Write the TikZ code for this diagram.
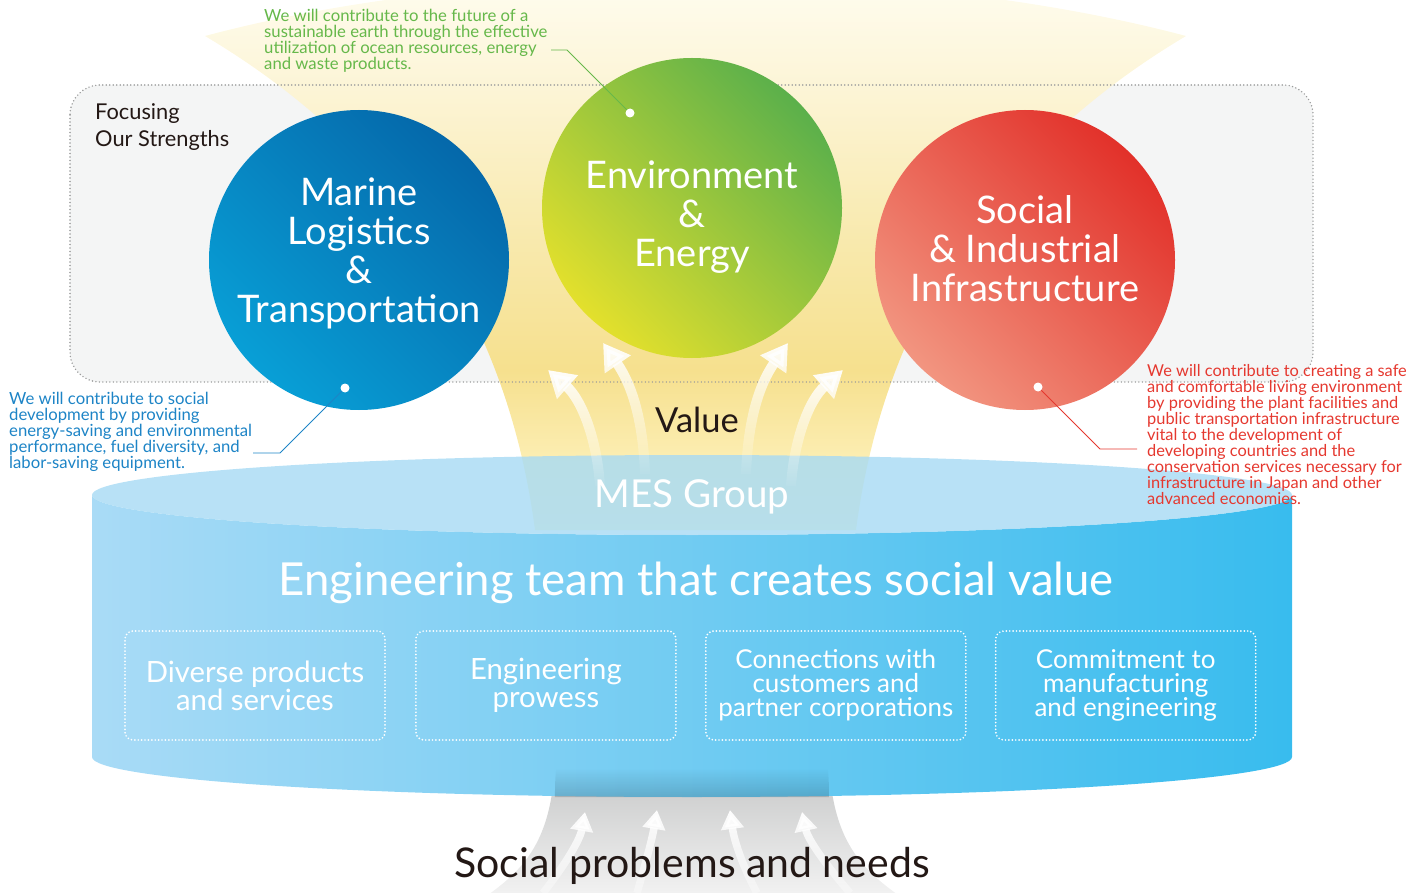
\documentclass[tikz,border=0pt]{standalone}
\usepackage{fontspec}
\setmainfont{Lato}
\usetikzlibrary{arrows.meta,fadings,positioning}

\definecolor{panelgray}{HTML}{F4F5F5}
\definecolor{dotgray}{HTML}{9A9B9B}
\definecolor{inkdark}{HTML}{231815}
\definecolor{cylleft}{HTML}{A9DBF6}
\definecolor{cylright}{HTML}{38BCEE}
\definecolor{cyltop}{HTML}{A6DAF4}
\definecolor{needgray}{HTML}{C4C5C5}
\definecolor{needlight}{HTML}{F2F2F2}
\definecolor{blueA}{HTML}{089FD6}
\definecolor{blueB}{HTML}{0076BB}
\definecolor{blueC}{HTML}{0568AA}
\definecolor{greenA}{HTML}{E3E02C}
\definecolor{greenB}{HTML}{A8CA3C}
\definecolor{greenC}{HTML}{5BB04B}
\definecolor{redA}{HTML}{F29580}
\definecolor{redB}{HTML}{E4412F}
\definecolor{redC}{HTML}{E2312A}
\definecolor{notegreen}{HTML}{66B84A}
\definecolor{noteblue}{HTML}{1D84C6}
\definecolor{notered}{HTML}{E5382F}
\definecolor{fnA}{HTML}{FDF3C6}
\definecolor{fnB}{HTML}{FCEEB3}
\definecolor{fnC}{HTML}{F6E08E}
\definecolor{fnD}{HTML}{F8E9AC}
\definecolor{fnE}{HTML}{FCF4D4}
\definecolor{fnF}{HTML}{FFFEF4}

\pgfdeclareverticalshading{funnelshade}{100bp}{color(0bp)=(fnA); color(25bp)=(fnA);
  color(31bp)=(fnB); color(39bp)=(fnC); color(50bp)=(fnD); color(63bp)=(fnE);
  color(75bp)=(fnF); color(100bp)=(fnF)}

\tikzfading[name=arrowfade, top color=transparent!0, middle color=transparent!15, bottom color=transparent!100]
\tikzfading[name=needfade, top color=transparent!0, middle color=transparent!0, bottom color=transparent!70]
\tikzfading[name=upfade, top color=transparent!100, bottom color=transparent!0]

\tikzset{
  strength/.style={circle, minimum size=300pt, inner sep=0pt},
  circtext/.style={text=white, align=center, font=\fontsize{38}{39}\selectfont},
  valuearrow/.style={white, line width=10pt, -{Triangle[width=30pt,length=26pt]}, path fading=arrowfade},
  needarrow/.style={white, line width=7.5pt, -{Triangle[width=22pt,length=19pt]}, path fading=needfade},
  featurebox/.style={draw=white, line width=1.9pt, line cap=round, dash pattern=on 0pt off 3.4pt,
    rounded corners=8pt, minimum width=260pt, minimum height=109pt, text=white, align=center},
  note/.style={align=left, inner sep=0pt, anchor=north west, font=\fontsize{16.7}{16}\selectfont},
  notedot/.style={circle, fill=white, inner sep=0pt, minimum size=9pt},
  leader/.style={line width=0.9pt}
}

\begin{document}
\begin{tikzpicture}[x=1pt,y=-1pt]
\useasboundingbox (0,0) rectangle (1427,893);

% panel behind the three fields
\fill[panelgray, rounded corners=30pt] (70,85) rectangle (1313,382);

% value funnel
\shade[shading=funnelshade] (205,36) .. controls (380,140) and (505,300) .. (535,530)
  -- (856,530) .. controls (886,300) and (1011,140) .. (1186,36)
  .. controls (900,-40) and (490,-40) .. cycle;

\draw[dotgray, line width=1.6pt, line cap=round, dash pattern=on 0pt off 3.5pt, rounded corners=30pt]
  (70,85) rectangle (1313,382);

% needs funnel
\shade[top color=needgray, bottom color=needlight] (555,760) .. controls (552,840) and (525,868) .. (488,895)
  -- (898,895) .. controls (861,868) and (832,840) .. (829,760) -- cycle;

% cylinder
\shade[left color=cylleft, right color=cylright]
  (92,495) arc[start angle=180, end angle=0, x radius=600, y radius=40]
  -- (1292,757) arc[start angle=0, end angle=180, x radius=600, y radius=40] -- cycle;
\fill[cyltop, opacity=0.8] (692,495) ellipse[x radius=600, y radius=40];
\fill[black, opacity=0.16, path fading=upfade] (556,768) .. controls (555,785) .. (555,797)
  -- (829,797) .. controls (829,785) .. (828,768) -- cycle;

% three fields
\node[strength, left color=blueA, middle color=blueB, right color=blueC, shading angle=135] (marine) at (359,260) {};
\node[strength, left color=greenA, middle color=greenB, right color=greenC, shading angle=135] (environ) at (692,208) {};
\node[strength, left color=redA, middle color=redB, right color=redC, shading angle=135] (social) at (1025,260) {};

% value arrows
\draw[valuearrow] (600,486) .. controls (597,440) and (582,400) .. (548,370);
\draw[valuearrow] (645,474) .. controls (643,420) and (632,385) .. (603,343);
\draw[valuearrow] (746,474) .. controls (748,420) and (759,385) .. (788,343);
\draw[valuearrow] (791,486) .. controls (794,440) and (809,400) .. (843,370);

% needs arrows
\draw[needarrow] (543,893) .. controls (565,865) and (580,840) .. (585,812);
\draw[needarrow] (637,893) .. controls (645,865) and (652,840) .. (657,810);
\draw[needarrow] (757,893) .. controls (742,865) and (734,840) .. (730,810);
\draw[needarrow] (850,893) .. controls (826,865) and (808,840) .. (802,812);

% texts
\node[circtext] (marinetxt) at (359,253) {Marine\\Logistics\\\&\\Transportation};
\node[circtext] (environtxt) at (692,217) {Environment\\\&\\Energy};
\node[circtext] (socialtxt) at (1025,249) {Social\\\& Industrial\\Infrastructure};

\node[note, text=inkdark, font=\fontsize{21.8}{27}\selectfont] (focus) at (95,103) {Focusing\\Our Strengths};

\node[text=inkdark, font=\fontsize{34.5}{40}\selectfont] (value) at (697,420) {Value};
\node[text=white, font=\fontsize{38.5}{44}\selectfont] (mes) at (692,497) {MES Group};
\node[text=white, font=\fontsize{45.5}{50}\selectfont] (team) at (696,583) {Engineering team that creates social value};

\node[featurebox, font=\fontsize{29.3}{28}\selectfont] (box1) at (255,685.5) {Diverse products\\and services};
\node[featurebox, font=\fontsize{29.3}{28}\selectfont, right=29pt of box1] (box2) {Engineering\\prowess};
\node[featurebox, font=\fontsize{26}{24}\selectfont, right=28pt of box2] (box3) {Connections with\\customers and\\partner corporations};
\node[featurebox, font=\fontsize{26}{24}\selectfont, right=28pt of box3] (box4) {Commitment to\\manufacturing\\and engineering};

\node[text=inkdark, font=\fontsize{41}{46}\selectfont] (needs) at (692,866) {Social problems and needs};

% notes with leaders
\node[note, text=notegreen] (envnote) at (264,9)
  {We will contribute to the future of a\\sustainable earth through the effective\\utilization of ocean resources, energy\\and waste products.};
\node[notedot] (envdot) at (630,113) {};
\coordinate (envend) at (551,50);
\draw[notegreen, leader] (envend) -- ++(16,0) -- (envdot);

\node[note, text=noteblue] (marnote) at (9,392)
  {We will contribute to social\\development by providing\\energy-saving and environmental\\performance, fuel diversity, and\\labor-saving equipment.};
\node[notedot] (mardot) at (345,388) {};
\coordinate (marend) at (253,453);
\draw[noteblue, leader] (marend) -- ++(27,0) -- (mardot);

\node[note, text=notered, font=\fontsize{16.4}{16}\selectfont] (socnote) at (1147,364)
  {We will contribute to creating a safe\\and comfortable living environment\\by providing the plant facilities and\\public transportation infrastructure\\vital to the development of\\developing countries and the\\conservation services necessary for\\infrastructure in Japan and other\\advanced economies.};
\node[notedot] (socdot) at (1038,387) {};
\coordinate (socend) at (1137,449);
\draw[notered, leader] (socend) -- ++(-37,0) -- (socdot);
\end{tikzpicture}
\end{document}
